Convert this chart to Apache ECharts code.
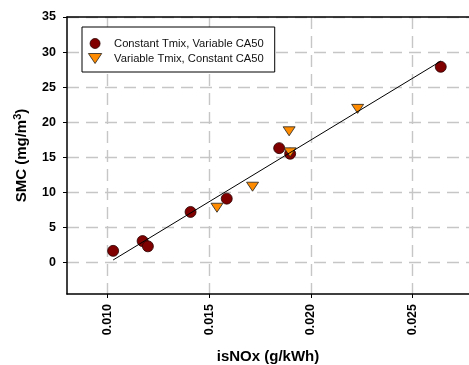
<!DOCTYPE html>
<html>
<head>
<meta charset="utf-8">
<script src="https://cdn.jsdelivr.net/npm/echarts@6/dist/echarts.min.js"></script>
<style>
  html, body { margin: 0; padding: 0; background: #fff; }
  #chart { width: 469px; height: 365px; }
</style>
</head>
<body>
<div id="chart"></div>
<script>
// data
var nameA = 'Constant Tmix, Variable CA50';
var nameB = 'Variable Tmix, Constant CA50';
var tmixConstX = [0.01027, 0.01172, 0.01198, 0.01408, 0.01586, 0.01844, 0.01898, 0.02639];
var tmixConstY = [1.65, 3.05, 2.3, 7.2, 9.1, 16.3, 15.5, 27.9];
var tmixVarX = [0.01538, 0.01713, 0.01893, 0.01898, 0.0223];
var tmixVarY = [7.8, 10.8, 18.7, 15.7, 21.9];
var fitX = [0.01027, 0.02639];
var fitY = [0.35, 28.7];
var xTicks = [0.010, 0.015, 0.020, 0.025];
var yTicks = [0, 5, 10, 15, 20, 25, 30, 35];

function pairs(xs, ys) {
  var out = [];
  for (var i = 0; i < xs.length; i++) out.push([xs[i], ys[i]]);
  return out;
}

var chart = echarts.init(document.getElementById('chart'));
var font = 'Liberation Sans, Arial, sans-serif';
var grid_line = { show: true, lineStyle: { color: '#c6c6c6', width: 1.4, type: [12, 7] } };
var xMin = 0.008, xMax = 0.02778;

option = {
  animation: false,
  textStyle: { fontFamily: font },
  grid: { left: 67, top: 17, right: 0, height: 277, show: false, outerBoundsMode: 'none', containLabel: false },
  legend: {
    orient: 'vertical',
    left: 82, top: 27,
    data: [nameA, nameB],
    backgroundColor: '#fff',
    borderColor: '#000', borderWidth: 1,
    padding: [11, 11, 8, 6],
    itemWidth: 28, itemHeight: 10, itemGap: 4, itemStyle: { borderWidth: 0.8 },
    textStyle: { fontFamily: font, fontSize: 11.2, color: '#111' }
  },
  xAxis: [{
    type: 'value',
    min: xMin, max: xMax,
    name: 'isNOx (g/kWh)',
    nameLocation: 'middle',
    nameGap: 55,
    nameTextStyle: { fontFamily: font, fontWeight: 'bold', fontSize: 15, color: '#000' },
    axisLine: { show: true, onZero: false, lineStyle: { color: '#000', width: 1.5 } },
    axisTick: { show: true, length: 4, customValues: xTicks, lineStyle: { color: '#000' } },
    axisLabel: {
      customValues: xTicks, rotate: 90, margin: 10,
      fontFamily: font, fontWeight: 'bold', fontSize: 12.5, color: '#000',
      formatter: function (v) { return v.toFixed(3); }
    },
    splitLine: grid_line
  }, {
    // top frame line only
    type: 'value',
    position: 'top',
    min: xMin, max: xMax,
    axisLine: { show: true, onZero: false, lineStyle: { color: '#000', width: 1.5 } },
    axisTick: { show: false },
    axisLabel: { show: false },
    splitLine: { show: false }
  }],
  yAxis: {
    type: 'value',
    min: -4.5, max: 35,
    name: '{m|SMC (mg/m}{s|3}{m|)}',
    nameLocation: 'middle',
    nameGap: 36,
    nameTextStyle: {
      rich: {
        m: { fontFamily: font, fontWeight: 'bold', fontSize: 15, color: '#000', lineHeight: 19 },
        s: { fontFamily: font, fontWeight: 'bold', fontSize: 11, color: '#000', verticalAlign: 'top', lineHeight: 19 }
      }
    },
    axisLine: { show: true, onZero: false, lineStyle: { color: '#000', width: 1.5 } },
    axisTick: { show: true, length: 4, customValues: yTicks, lineStyle: { color: '#000' } },
    axisLabel: {
      customValues: yTicks, margin: 11,
      fontFamily: font, fontWeight: 'bold', fontSize: 12.5, color: '#000'
    },
    splitLine: grid_line
  },
  series: [
    {
      name: nameA,
      type: 'scatter',
      data: pairs(tmixConstX, tmixConstY),
      symbol: 'circle',
      symbolSize: 11,
      itemStyle: { color: '#800000', borderColor: '#2a0000', borderWidth: 0.8, opacity: 1 },
      z: 2
    },
    {
      name: nameB,
      type: 'scatter',
      data: pairs(tmixVarX, tmixVarY),
      symbol: 'path://M0,0L12,0L6,9Z',
      symbolSize: [12, 9],
      itemStyle: { color: '#ff8c00', borderColor: '#222', borderWidth: 0.8, opacity: 1 },
      z: 3
    },
    {
      name: 'fit',
      type: 'line',
      data: pairs(fitX, fitY),
      symbol: 'none',
      lineStyle: { color: '#000', width: 1 },
      z: 4
    }
  ]
};

chart.setOption(option, true);
</script>
</body>
</html>
